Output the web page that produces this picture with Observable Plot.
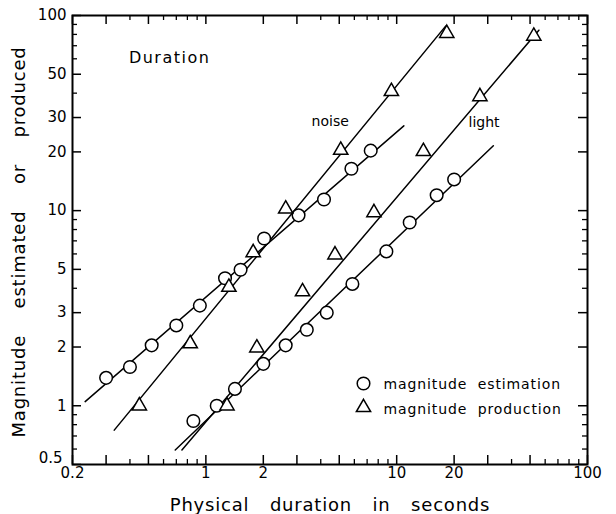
<!DOCTYPE html>
<html>
<head>
<meta charset="utf-8">
<script src="https://cdn.jsdelivr.net/npm/d3@7"></script>
<script src="https://cdn.jsdelivr.net/npm/@observablehq/plot@0.6"></script>
<style>
  html, body { margin: 0; padding: 0; background: white; }
  #chart { width: 616px; height: 514px; }
</style>
</head>
<body>
<div id="chart"></div>
<script>
// ---- tick labels ----
const xMajor = [0.2, 0.3, 0.5, 1, 2, 3, 5, 10, 20, 30, 50, 100];
const xMinor = [0.4, 0.6, 0.7, 0.8, 0.9, 4, 6, 7, 8, 9, 40, 60, 70, 80, 90];
const yMajor = [0.5, 1, 2, 3, 5, 10, 20, 30, 50, 100];
const yMinor = [0.6, 0.7, 0.8, 0.9, 4, 6, 7, 8, 9, 40, 60, 70, 80, 90];

// ---- noise: magnitude estimation (circles) ----
const noiseEstX = [0.3, 0.4, 0.52, 0.7, 0.93, 1.26, 1.52, 2.02, 3.06, 4.16, 5.79, 7.31];
const noiseEstY = [1.39, 1.58, 2.04, 2.58, 3.26, 4.5, 4.98, 7.2, 9.46, 11.4, 16.4, 20.3];
// ---- noise: magnitude production (triangles) ----
const noiseProdX = [0.448, 0.828, 1.32, 1.77, 2.62, 5.09, 9.38, 18.3];
const noiseProdY = [1.0, 2.08, 4.05, 6.1, 10.2, 20.4, 40.8, 81];
// ---- light: magnitude estimation (circles) ----
const lightEstX = [0.86, 1.14, 1.42, 2.0, 2.62, 3.38, 4.3, 5.86, 8.83, 11.7, 16.2, 20];
const lightEstY = [0.835, 1.0, 1.22, 1.64, 2.04, 2.45, 3.0, 4.21, 6.18, 8.69, 12, 14.45];
// ---- light: magnitude production (triangles) ----
const lightProdX = [1.29, 1.85, 3.21, 4.75, 7.6, 13.8, 27.3, 52.3];
const lightProdY = [1.0, 1.98, 3.84, 5.94, 9.77, 20.1, 38.4, 78.4];

// ---- fitted lines (end points) ----
const noiseEstLineX = [0.233, 10.9],  noiseEstLineY = [1.05, 27.2];
const noiseProdLineX = [0.331, 18.05], noiseProdLineY = [0.75, 88.2];
const lightEstLineX = [0.691, 32.1],  lightEstLineY = [0.593, 21.5];
const lightProdLineX = [0.749, 55.6], lightProdLineY = [0.593, 84.1];

const zip = (xs, ys) => xs.map((x, i) => ({x, y: ys[i]}));

const W = 616, H = 514;
const mL = 72, mR = 29, mT = 15, mB = 50;
const fW = W - mL - mR, fH = H - mT - mB;
const FONT = "DejaVu Sans";

const lineStyle = {x: "x", y: "y", stroke: "black", strokeWidth: 1.5};
const circleStyle = {x: "x", y: "y", r: 6.3, fill: "white", stroke: "black", strokeWidth: 1.5};
const triStyle = {x: "x", y: "y", r: 5.3, symbol: "triangle", fill: "white", stroke: "black", strokeWidth: 1.5};

const chart = Plot.plot({
  width: W, height: H,
  marginLeft: mL, marginRight: mR, marginTop: mT, marginBottom: mB,
  x: {type: "log", domain: [0.2, 100], axis: null},
  y: {type: "log", domain: [0.5, 100], axis: null},
  style: {fontFamily: FONT, background: "white", color: "black"},
  marks: [
    // ticks (inward) on all four sides
    Plot.ruleX(xMajor, {insetTop: fH - 9, strokeWidth: 1.5}),
    Plot.ruleX(xMinor, {insetTop: fH - 5, strokeWidth: 1.3}),
    Plot.ruleX(xMajor, {insetBottom: fH - 9, strokeWidth: 1.5}),
    Plot.ruleX(xMinor, {insetBottom: fH - 5, strokeWidth: 1.3}),
    Plot.ruleY(yMajor, {insetRight: fW - 9, strokeWidth: 1.5}),
    Plot.ruleY(yMinor, {insetRight: fW - 5, strokeWidth: 1.3}),
    Plot.ruleY(yMajor, {insetLeft: fW - 9, strokeWidth: 1.5}),
    Plot.ruleY(yMinor, {insetLeft: fW - 5, strokeWidth: 1.3}),
    Plot.frame({stroke: "black", strokeWidth: 2}),
    // tick labels
    Plot.axisX(xMajor, {anchor: "bottom", tickSize: 0, tickPadding: 3, fontSize: 15, label: null, tickFormat: d => String(d)}),
    Plot.axisY(yMajor.slice(1), {anchor: "left", tickSize: 0, tickPadding: 6, fontSize: 15, label: null, tickFormat: d => String(d)}),
    Plot.axisY(yMajor.slice(0, 1), {anchor: "left", tickSize: 0, tickPadding: 10, dy: -6, fontSize: 15, label: null, tickFormat: d => String(d)}),
    // fitted lines
    Plot.line(zip(noiseEstLineX, noiseEstLineY), lineStyle),
    Plot.line(zip(noiseProdLineX, noiseProdLineY), lineStyle),
    Plot.line(zip(lightEstLineX, lightEstLineY), lineStyle),
    Plot.line(zip(lightProdLineX, lightProdLineY), lineStyle),
    // data points
    Plot.dot(zip(noiseEstX, noiseEstY), circleStyle),
    Plot.dot(zip(lightEstX, lightEstY), circleStyle),
    Plot.dot(zip(noiseProdX, noiseProdY), triStyle),
    Plot.dot(zip(lightProdX, lightProdY), triStyle),
    // annotations
    Plot.text(["Duration"], {x: 0.395, y: 57, textAnchor: "start", lineAnchor: "bottom", fontSize: 16, fill: "black"}),
    Plot.text(["noise"], {x: 3.58, y: 27.2, textAnchor: "start", lineAnchor: "bottom", fontSize: 14, fill: "black"}),
    Plot.text(["light"], {x: 23.8, y: 26.9, textAnchor: "start", lineAnchor: "bottom", fontSize: 14, fill: "black"}),
    // legend
    Plot.dot([0], {frameAnchor: "top-left", dx: 291, dy: 368, r: 6.3, fill: "white", stroke: "black", strokeWidth: 1.5}),
    Plot.dot([0], {frameAnchor: "top-left", dx: 291, dy: 392, r: 5.3, symbol: "triangle", fill: "white", stroke: "black", strokeWidth: 1.5}),
    Plot.text(["magnitude estimation"], {frameAnchor: "top-left", dx: 311, dy: 373, textAnchor: "start", lineAnchor: "bottom", fontSize: 14, fill: "black"}),
    Plot.text(["magnitude production"], {frameAnchor: "top-left", dx: 311, dy: 398, textAnchor: "start", lineAnchor: "bottom", fontSize: 14, fill: "black"}),
    // axis titles
    Plot.text(["Physical duration in seconds"], {frameAnchor: "bottom", dy: 46, textAnchor: "middle", lineAnchor: "bottom", fontSize: 18, fill: "black"}),
    Plot.text(["Magnitude estimated or produced"], {frameAnchor: "left", dx: -53, dy: 2, rotate: -90, textAnchor: "middle", fontSize: 18, fill: "black"})
  ]
});

// spacing tweaks on text to mimic the wide lettering of the original
chart.querySelectorAll("text").forEach(t => {
  const s = t.textContent;
  if (s === "Physical duration in seconds") { t.style.letterSpacing = "0.8px"; t.style.wordSpacing = "14px"; }
  else if (s === "Magnitude estimated or produced") { t.style.letterSpacing = "0.8px"; t.style.wordSpacing = "20px"; }
  else if (s.startsWith("magnitude")) { t.style.letterSpacing = "0.9px"; t.style.wordSpacing = "5px"; }
  else if (s === "Duration") { t.style.letterSpacing = "1.5px"; }
});

document.getElementById("chart").appendChild(chart);
</script>
</body>
</html>
